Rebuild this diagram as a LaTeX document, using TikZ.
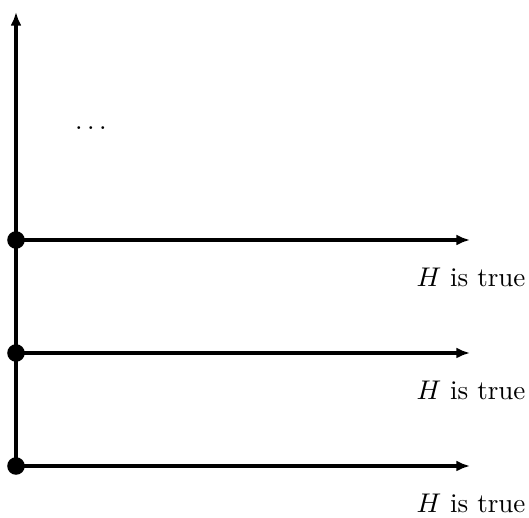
\documentclass[tikz,border=0pt]{standalone}
\usetikzlibrary{arrows.meta}
\begin{document}
\begin{tikzpicture}[x=0.37pt,y=-0.37pt,
  axis/.style={line width=1.2pt,-{Latex[length=5pt,width=4pt]}},
  dotmark/.style={circle,fill=black,inner sep=0pt,minimum size=6.5pt},
  lbl/.style={font=\fontsize{10}{12}\selectfont}]
\useasboundingbox (0,0) rectangle (529,518);
\coordinate (o) at (16,466);
\coordinate (top) at (16,12);
\draw[axis] (o) -- (top);
\foreach \i/\y in {1/466,2/353,3/240}{
  \node[dotmark] (d\i) at (16,\y) {};
  \coordinate (e\i) at (470,\y);
  \draw[axis] (d\i.center) -- (e\i);
  \node[lbl] (t\i) at (471,\y+37) {$H$ is true};
}
\node[lbl] (dots) at (91,128) {$\dots$};
\end{tikzpicture}
\end{document}
